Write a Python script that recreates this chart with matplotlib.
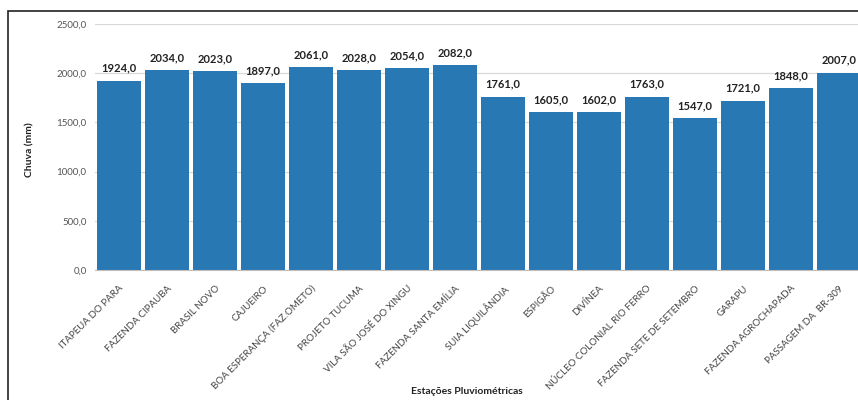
import matplotlib.pyplot as plt
import matplotlib.patches as patches

plt.rcParams['font.family'] = ['Lato', 'DejaVu Sans']

# estações e chuva acumulada (mm)
estacoes = ['ITAPEUA DO PARA', 'FAZENDA CIPAUBA', 'BRASIL NOVO', 'CAJUEIRO',
            'BOA ESPERANÇA (FAZ.OMETO)', 'PROJETO TUCUMA', 'VILA SÃO JOSÉ DO XINGU',
            'FAZENDA SANTA EMÍLIA', 'SUIA LIQUILÂNDIA', 'ESPIGÃO', 'DIVÍNEA',
            'NÚCLEO COLONIAL RIO FERRO', 'FAZENDA SETE DE SETEMBRO', 'GARAPU',
            'FAZENDA AGROCHAPADA', 'PASSAGEM DA  BR-309']
chuva = [1924.0, 2034.0, 2023.0, 1897.0, 2061.0, 2028.0, 2054.0, 2082.0,
         1761.0, 1605.0, 1602.0, 1763.0, 1547.0, 1721.0, 1848.0, 2007.0]
yticks = [0, 500, 1000, 1500, 2000, 2500]

cor_barra = '#2878b4'

fig = plt.figure(figsize=(8.58, 4.0), dpi=100)
ax = fig.add_axes([95 / 858, 130 / 400, 768 / 858, 246 / 400])

x = list(range(len(chuva)))
barras = ax.bar(x, chuva, width=0.92, color=cor_barra, zorder=2)

for xi, v in zip(x, chuva):
    ax.text(xi, v + 70, f'{v:.1f}'.replace('.', ','), ha='center', va='bottom',
            fontsize=8, fontweight='bold', color='#222222')

ax.set_xlim(-0.5, len(chuva) - 0.5)
ax.set_ylim(0, 2500)
ax.set_yticks(yticks)
ax.set_yticklabels([f'{t:.1f}'.replace('.', ',') for t in yticks], fontsize=7, color='#555555')
ax.set_xticks(x)
ax.set_xticklabels(estacoes, rotation=45, ha='right', rotation_mode='anchor',
                   fontsize=7, color='#444444')
ax.tick_params(axis='both', length=0, pad=6)
ax.tick_params(axis='x', pad=10)

ax.grid(axis='y', color='#d9d9d9', linewidth=0.9, zorder=0)
for s in ['top', 'right', 'left']:
    ax.spines[s].set_visible(False)
ax.spines['bottom'].set_color('#bfbfbf')

fig.text(30 / 858, 1 - 150 / 400, 'Chuva (mm)', rotation=90, ha='center', va='center',
         fontsize=7.5, fontweight='bold', color='#222222')
fig.text(467 / 858, 1 - 392 / 400, 'Estações Pluviométricas', ha='center', va='center',
         fontsize=7.5, fontweight='bold', color='#222222')

# moldura
fig.add_artist(patches.Rectangle((8 / 858, -0.1), 1.2, 1 - 11 / 400 + 0.1,
                                 transform=fig.transFigure, fill=False,
                                 edgecolor='#222222', linewidth=1.2))

fig.savefig('out.png', dpi=100)
